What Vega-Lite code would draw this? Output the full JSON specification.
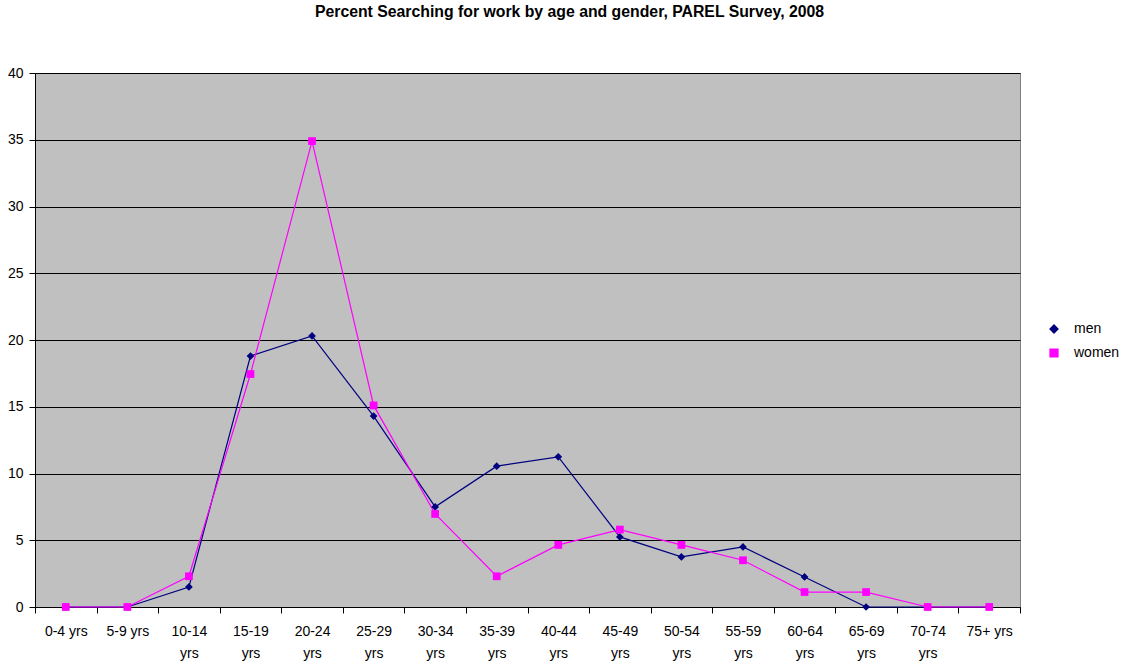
{
  "$schema": "https://vega.github.io/schema/vega-lite/v6.json",
  "autosize": {"type": "none"},
  "width": 985,
  "height": 534,
  "padding": {"left": 35, "top": 73, "right": 102, "bottom": 54},
  "title": {
    "text": "Percent Searching for work by age and gender, PAREL Survey, 2008",
    "font": "Liberation Sans",
    "fontSize": 15.8,
    "fontWeight": "bold",
    "color": "#000000",
    "anchor": "middle",
    "frame": "group",
    "dx": 42,
    "offset": 45
  },
  "config": {
    "font": "Liberation Sans",
    "view": {"fill": "#C0C0C0", "stroke": "#808080", "strokeWidth": 1}
  },
  "data": {
    "values": [
      {"age": "0-4 yrs", "sex": "men", "pct": 0},
      {"age": "5-9 yrs", "sex": "men", "pct": 0},
      {"age": "10-14 yrs", "sex": "men", "pct": 1.5},
      {"age": "15-19 yrs", "sex": "men", "pct": 18.8},
      {"age": "20-24 yrs", "sex": "men", "pct": 20.3},
      {"age": "25-29 yrs", "sex": "men", "pct": 14.3},
      {"age": "30-34 yrs", "sex": "men", "pct": 7.5},
      {"age": "35-39 yrs", "sex": "men", "pct": 10.55},
      {"age": "40-44 yrs", "sex": "men", "pct": 11.25},
      {"age": "45-49 yrs", "sex": "men", "pct": 5.25},
      {"age": "50-54 yrs", "sex": "men", "pct": 3.75},
      {"age": "55-59 yrs", "sex": "men", "pct": 4.5},
      {"age": "60-64 yrs", "sex": "men", "pct": 2.25},
      {"age": "65-69 yrs", "sex": "men", "pct": 0},
      {"age": "70-74 yrs", "sex": "men", "pct": 0},
      {"age": "75+ yrs", "sex": "men", "pct": 0},
      {"age": "0-4 yrs", "sex": "women", "pct": 0},
      {"age": "5-9 yrs", "sex": "women", "pct": 0},
      {"age": "10-14 yrs", "sex": "women", "pct": 2.3},
      {"age": "15-19 yrs", "sex": "women", "pct": 17.45},
      {"age": "20-24 yrs", "sex": "women", "pct": 34.9},
      {"age": "25-29 yrs", "sex": "women", "pct": 15.1},
      {"age": "30-34 yrs", "sex": "women", "pct": 6.97},
      {"age": "35-39 yrs", "sex": "women", "pct": 2.3},
      {"age": "40-44 yrs", "sex": "women", "pct": 4.65},
      {"age": "45-49 yrs", "sex": "women", "pct": 5.8},
      {"age": "50-54 yrs", "sex": "women", "pct": 4.65},
      {"age": "55-59 yrs", "sex": "women", "pct": 3.5},
      {"age": "60-64 yrs", "sex": "women", "pct": 1.12},
      {"age": "65-69 yrs", "sex": "women", "pct": 1.12},
      {"age": "70-74 yrs", "sex": "women", "pct": 0},
      {"age": "75+ yrs", "sex": "women", "pct": 0}
    ]
  },
  "encoding": {
    "x": {
      "field": "age",
      "type": "nominal",
      "sort": null,
      "scale": {
        "type": "band",
        "paddingInner": 0,
        "paddingOuter": 0,
        "domain": ["0-4 yrs","5-9 yrs","10-14 yrs","15-19 yrs","20-24 yrs","25-29 yrs","30-34 yrs","35-39 yrs","40-44 yrs","45-49 yrs","50-54 yrs","55-59 yrs","60-64 yrs","65-69 yrs","70-74 yrs","75+ yrs"]
      },
      "axis": {
        "title": null,
        "labelAngle": 0,
        "tickBand": "extent",
        "domainColor": "#000000",
        "tickColor": "#000000",
        "tickSize": 6,
        "labelFontSize": 14,
        "labelColor": "#000000",
        "labelPadding": 11,
        "labelLineHeight": 22,
        "labelBaseline": "top",
        "labelExpr": "length(datum.label) > 7 ? split(datum.label, ' ') : datum.label"
      }
    },
    "y": {
      "field": "pct",
      "type": "quantitative",
      "scale": {"domain": [0, 40], "nice": false},
      "axis": {
        "title": null,
        "values": [0,5,10,15,20,25,30,35,40],
        "grid": true,
        "gridColor": "#000000",
        "gridOpacity": 1,
        "gridWidth": 1,
        "domainColor": "#000000",
        "tickColor": "#000000",
        "tickSize": 6,
        "labelFontSize": 14,
        "labelColor": "#000000",
        "labelPadding": 6
      }
    },
    "color": {
      "field": "sex",
      "type": "nominal",
      "scale": {"domain": ["men", "women"], "range": ["#000080", "#FF00FF"]},
      "legend": {
        "title": null,
        "orient": "none",
        "legendX": 1012,
        "legendY": 249,
        "labelFontSize": 14,
        "labelColor": "#000000",
        "labelOffset": 13,
        "symbolSize": 60,
        "rowPadding": 10
      }
    },
    "shape": {
      "field": "sex",
      "type": "nominal",
      "scale": {"domain": ["men", "women"], "range": ["diamond", "square"]},
      "legend": null
    }
  },
  "layer": [
    {"mark": {"type": "line", "strokeWidth": 1.2}},
    {"mark": {"type": "point", "filled": true, "opacity": 1, "size": 60}}
  ]
}
